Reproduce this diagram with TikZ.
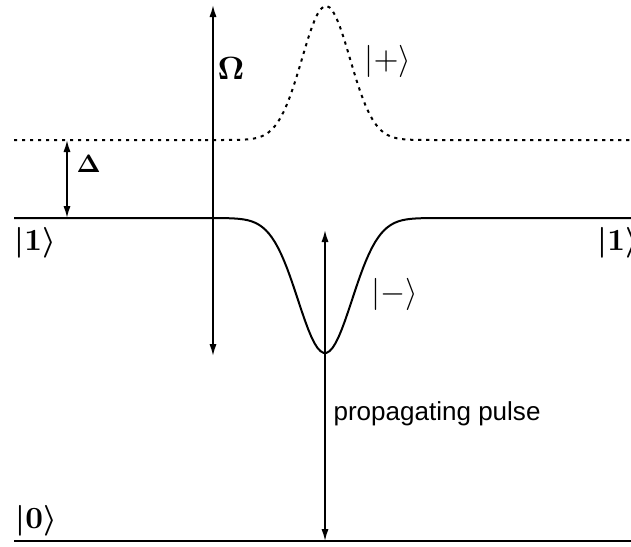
\documentclass[tikz,border=0pt]{standalone}
\usepackage{amsmath}
\usepackage{amssymb}
\usepackage{fontspec}
\setsansfont{Liberation Sans}
\usetikzlibrary{arrows.meta, positioning}

\newcommand{\estado}[1]{\ensuremath{\lvert #1\rangle}}

\tikzset{
  nivel/.style={line width=1pt},
  puntos/.style={line width=1pt, dash pattern=on 1.6pt off 2.4pt},
  flecha/.style={{Latex[length=6pt,width=3.6pt]}-{Latex[length=6pt,width=3.6pt]}, line width=0.8pt},
  etiq/.style={inner sep=0pt, anchor=base west, scale=1.4},
}

\begin{document}
\begin{tikzpicture}[x=0.5pt, y=-0.5pt]
  \useasboundingbox (0,0) rectangle (631,546);

  % Niveles
  \draw[puntos] (14,140) -- (205,140)
    plot[domain=205:445, samples=80] (\x, {140-134*exp(-0.5*((\x-326)/24)^2)})
    -- (631,140);
  \draw[nivel] (14,218) -- (205,218)
    plot[domain=205:445, samples=80] (\x, {218+135*exp(-0.5*((\x-325)/27)^2)})
    -- (631,218);
  \draw[nivel] (14,541) -- (631,541);

  % Extremos de flechas
  \coordinate (delta-a) at (67,140);
  \coordinate (delta-b) at (67,218);
  \coordinate (omega-a) at (213,5);
  \coordinate (omega-b) at (213,356);
  \coordinate (pulso-a) at (325,230);
  \coordinate (pulso-b) at (325,541);

  \draw[flecha] (delta-a) -- (delta-b);
  \draw[flecha] (omega-a) -- (omega-b);
  \draw[flecha] (pulso-a) -- (pulso-b);

  % Etiquetas
  \node[etiq, scale=1.1] (uno-izq) at (14,250) {$\boldsymbol{\lvert 1\rangle}$};
  \node[etiq, scale=1.1] (uno-der) at (597,250) {$\boldsymbol{\lvert 1\rangle}$};
  \node[etiq, scale=1.1] (cero) at (15,528) {$\boldsymbol{\lvert 0\rangle}$};
  \node[etiq, scale=1.15] (ket-mas) at (364,69) {\estado{+}};
  \node[etiq, scale=1.15] (ket-menos) at (371,302) {\estado{-}};
  \node[etiq, scale=1.15] (omega) at (217,79) {$\boldsymbol{\Omega}$};
  \node[etiq, scale=0.9] (delta) at (76,172) {$\boldsymbol{\Delta}$};
  \node[etiq, scale=0.93, font=\sffamily] (pulso) at (333,420) {propagating pulse};
\end{tikzpicture}
\end{document}
